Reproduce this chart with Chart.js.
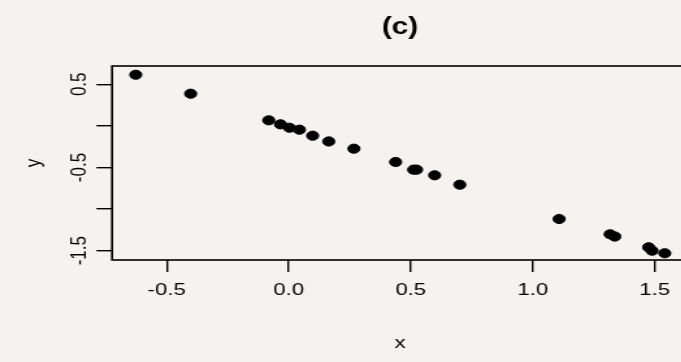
<!DOCTYPE html>
<html>
<head>
<meta charset="utf-8">
<script src="https://cdn.jsdelivr.net/npm/chart.js@4"></script>
<style>
  html, body { margin: 0; padding: 0; overflow: hidden; background: #f4f3f0; }
  .wrap { width: 560px; height: 362px; transform: scaleX(1.3); transform-origin: 0 0; }
</style>
</head>
<body>
<div class="wrap"><canvas id="myChart" width="560" height="362"></canvas></div>
<script>
let xValues = [-0.627, -0.402, -0.082, -0.034, 0.003, 0.044, 0.098, 0.164, 0.267, 0.438, 0.512, 0.524, 0.598, 0.701, 1.108, 1.317, 1.336, 1.475, 1.489, 1.541];
let yValues = [0.615, 0.387, 0.067, 0.019, -0.022, -0.046, -0.118, -0.187, -0.274, -0.434, -0.526, -0.526, -0.594, -0.707, -1.119, -1.303, -1.330, -1.459, -1.500, -1.531];
let xTicks = [-0.5, 0, 0.5, 1, 1.5];
let yTicks = [-1.5, -1, -0.5, 0, 0.5];
let yTickLabels = ["-1.5", "", "-0.5", "", "0.5"];

let points = [];
for (let i = 0; i < xValues.length; i++) {
  points.push({ x: xValues[i], y: yValues[i] });
}

let font = { family: "'Liberation Sans', Arial, sans-serif", size: 17 };

// box round the plot region
let boxPlugin = {
  id: "box",
  afterDraw(chart) {
    let a = chart.chartArea;
    let ctx = chart.ctx;
    ctx.save();
    ctx.strokeStyle = "#000";
    ctx.lineWidth = 1.6;
    ctx.strokeRect(a.left, a.top, a.right - a.left, a.bottom - a.top);
    ctx.restore();
  }
};

new Chart("myChart", {
  type: "scatter",
  data: {
    datasets: [{
      data: points,
      backgroundColor: "#000",
      borderColor: "#000",
      pointRadius: 4.6,
      pointHoverRadius: 4.6
    }]
  },
  plugins: [boxPlugin],
  options: {
    responsive: false,
    animation: false,
    layout: { padding: { left: 0, right: 30.8, top: 0, bottom: 0 } },
    plugins: {
      legend: { display: false },
      tooltip: { enabled: false },
      title: {
        display: true,
        text: "(c)",
        fullSize: false,
        color: "#000",
        font: { family: font.family, size: 23, weight: "bold" },
        padding: { top: 14, bottom: 24.4 }
      }
    },
    scales: {
      x: {
        type: "linear",
        min: -0.724,
        max: 1.636,
        afterBuildTicks: (scale) => { scale.ticks = xTicks.map(v => ({ value: v })); },
        afterFit: (scale) => { scale.height = 102; },
        grid: { drawOnChartArea: false, drawTicks: true, tickLength: 12, color: "#000", lineWidth: 1.4 },
        border: { display: false },
        ticks: {
          color: "#000",
          font: font,
          padding: 8.5,
          maxRotation: 0,
          callback: (v) => v.toFixed(1)
        },
        title: { display: true, text: "x", color: "#000", font: font, padding: { top: 0, bottom: 8.5 } }
      },
      y: {
        type: "linear",
        min: -1.612,
        max: 0.72,
        afterBuildTicks: (scale) => { scale.ticks = yTicks.map(v => ({ value: v })); },
        afterFit: (scale) => { scale.width = 86.2; },
        grid: { drawOnChartArea: false, drawTicks: true, tickLength: 12, color: "#000", lineWidth: 1.4 },
        border: { display: false },
        ticks: {
          color: "#000",
          font: font,
          padding: -1.8,
          minRotation: 90,
          maxRotation: 90,
          crossAlign: "center",
          callback: (v, i) => yTickLabels[i]
        },
        title: { display: true, text: "y", color: "#000", font: font, padding: { top: 16, bottom: 0 } }
      }
    }
  }
});
</script>
</body>
</html>
